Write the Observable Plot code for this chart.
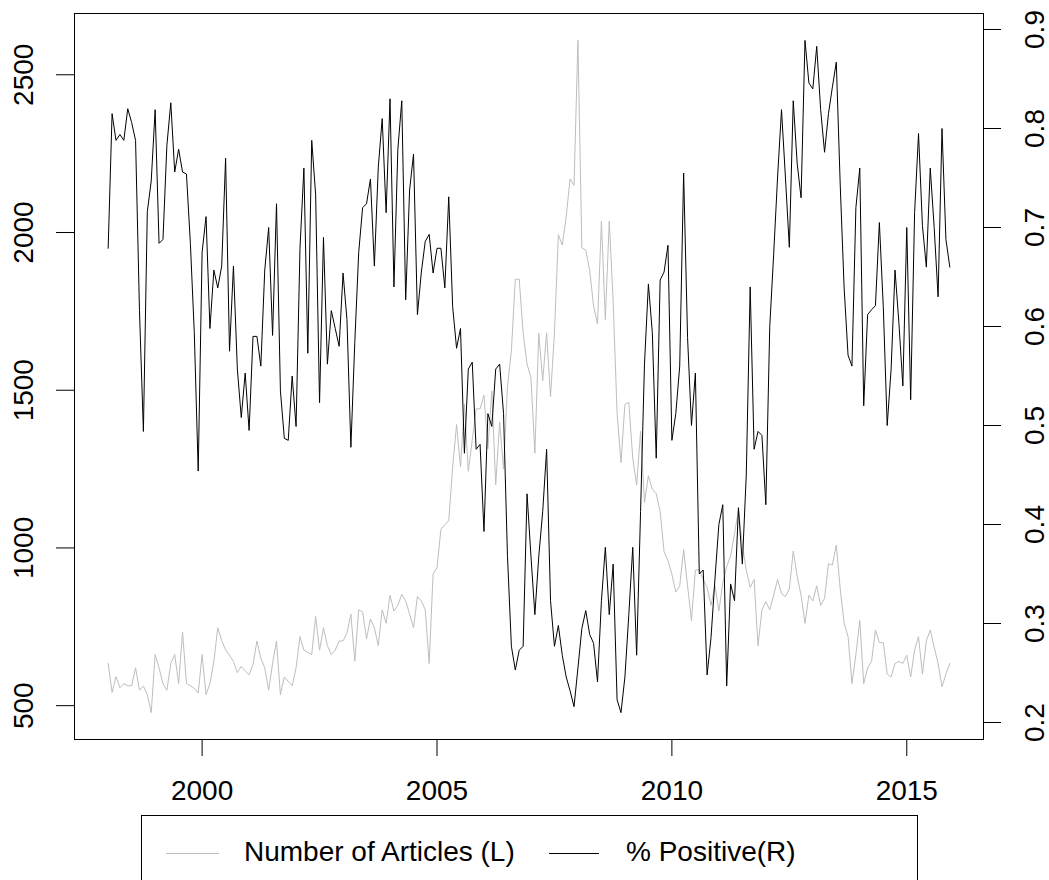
<!DOCTYPE html>
<html><head><meta charset="utf-8">
<script src="https://cdn.jsdelivr.net/npm/d3@7"></script>
<script src="https://cdn.jsdelivr.net/npm/@observablehq/plot@0.6"></script>
<style>
html,body{margin:0;padding:0;background:#fff;}
body{width:1049px;height:880px;overflow:hidden;position:relative;font-family:"Liberation Sans",Arial,sans-serif;}
#legend{position:absolute;left:141px;top:815px;width:777px;height:100px;border:1px solid #000;box-sizing:border-box;}
#legend .sw{position:absolute;top:37px;height:0;border-top:1px solid #000;}
#legend .lt{position:absolute;top:20px;font-size:28px;line-height:32px;color:#000;white-space:nowrap;}
</style></head>
<body>
<div id="chart"></div>
<div id="legend"></div>
<script>
const startYear = 1998;
const articles = [
  634,542,592,557,570,563,563,620,549,562,535,478,
  662,620,570,549,634,662,570,733,570,563,555,540,
  662,535,570,640,747,706,677,660,640,605,625,610,
  598,630,705,650,620,549,634,705,535,591,577,563,
  620,719,676,669,662,783,676,747,690,662,676,705,
  705,730,790,641,804,797,712,775,747,690,804,761,
  850,800,818,853,832,790,747,846,832,804,634,917,
  938,1059,1073,1087,1257,1391,1257,1455,1243,1342,1441,1441,
  1484,1314,1498,1200,1399,1250,1512,1625,1852,1852,1682,1583,
  1540,1300,1680,1530,1682,1480,1682,1993,1960,2050,2170,2149,
  2609,1951,1944,1880,1767,1710,2036,1724,2036,1781,1427,1271,
  1455,1462,1285,1200,1370,1144,1229,1186,1172,1115,988,960,
  917,860,880,995,880,770,930,931,900,875,818,880,
  800,889,940,975,1045,1120,1010,930,875,900,690,804,
  830,804,850,900,855,846,870,990,910,850,761,850,
  832,880,818,840,950,946,1009,870,761,719,570,662,
  770,570,620,640,740,700,700,600,591,634,640,634,
  660,591,676,719,600,705,740,685,634,560,600,634
];
const positive = [
  0.679,0.815,0.788,0.794,0.788,0.82,0.806,0.788,0.616,0.494,0.716,0.747,
  0.819,0.684,0.688,0.783,0.826,0.756,0.779,0.756,0.754,0.684,0.594,0.454,
  0.675,0.711,0.598,0.657,0.639,0.661,0.77,0.575,0.661,0.557,0.508,0.553,
  0.495,0.59,0.59,0.56,0.657,0.70,0.591,0.724,0.535,0.487,0.485,0.55,
  0.499,0.679,0.76,0.573,0.788,0.733,0.523,0.69,0.562,0.616,0.598,0.58,
  0.654,0.607,0.478,0.584,0.675,0.72,0.724,0.749,0.661,0.761,0.81,0.715,
  0.83,0.64,0.779,0.828,0.627,0.738,0.774,0.612,0.655,0.686,0.693,0.654,
  0.679,0.679,0.639,0.731,0.62,0.578,0.598,0.472,0.557,0.564,0.476,0.481,
  0.393,0.512,0.499,0.557,0.562,0.512,0.368,0.277,0.253,0.273,0.277,0.431,
  0.368,0.309,0.368,0.413,0.476,0.323,0.277,0.298,0.268,0.246,0.232,0.216,
  0.255,0.295,0.313,0.289,0.28,0.241,0.323,0.377,0.309,0.36,0.223,0.21,
  0.246,0.309,0.377,0.268,0.413,0.562,0.643,0.594,0.467,0.647,0.655,0.682,
  0.485,0.512,0.56,0.755,0.589,0.5,0.553,0.35,0.354,0.248,0.286,0.345,
  0.40,0.42,0.237,0.34,0.323,0.417,0.36,0.45,0.64,0.476,0.494,0.49,
  0.42,0.60,0.673,0.751,0.819,0.751,0.68,0.828,0.765,0.73,0.889,0.846,
  0.84,0.883,0.819,0.776,0.815,0.842,0.867,0.743,0.639,0.571,0.56,0.72,
  0.76,0.52,0.612,0.617,0.621,0.705,0.62,0.5,0.557,0.657,0.603,0.54,
  0.70,0.526,0.715,0.795,0.702,0.66,0.76,0.70,0.63,0.80,0.688,0.66
];
const xTicks = [2000, 2005, 2010, 2015];
const leftTicks = [500, 1000, 1500, 2000, 2500];
const rightTicks = [0.2, 0.3, 0.4, 0.5, 0.6, 0.7, 0.8, 0.9];
const seriesNames = ["Number of Articles (L)", "% Positive(R)"];
const seriesColors = ["#bebebe", "#000000"];

// R-style axis ranges: data extent extended by 4% each side
const ext = a => { const [lo, hi] = d3.extent(a); const r = hi - lo; return [lo - 0.04 * r, hi + 0.04 * r]; };
const dates = articles.map((_, i) => startYear + i / 12);
const xDom = ext(dates);
const L = ext(articles);
const R = ext(positive);
const toLeft = v => L[0] + (v - R[0]) * (L[1] - L[0]) / (R[1] - R[0]);
const fromLeft = y => R[0] + (y - L[0]) * (R[1] - R[0]) / (L[1] - L[0]);

const artData = articles.map((v, i) => ({date: dates[i], value: v}));
const posData = positive.map((v, i) => ({date: dates[i], value: toLeft(v)}));

const font = "Liberation Sans, Arial, sans-serif";
const chart = Plot.plot({
  width: 1049,
  height: 800,
  marginLeft: 74,
  marginRight: 66,
  marginTop: 13,
  marginBottom: 61,
  x: {domain: xDom},
  y: {domain: L},
  style: {fontFamily: font, fontSize: "28px", color: "#000", background: "#fff", overflow: "visible"},
  marks: [
    Plot.line(artData, {x: "date", y: "value", stroke: seriesColors[0], strokeWidth: 1}),
    Plot.line(posData, {x: "date", y: "value", stroke: seriesColors[1], strokeWidth: 1}),
    Plot.frame({stroke: "#000"}),
    Plot.axisX({ticks: xTicks, tickSize: 17, tickPadding: 24, tickFormat: d => String(d), label: null, fontSize: 28}),
    Plot.axisY({anchor: "left", ticks: leftTicks, tickSize: 18, tickPadding: 24, tickRotate: -90, tickFormat: d => String(d), label: null, fontSize: 28}),
    Plot.axisY({anchor: "right", ticks: rightTicks.map(toLeft), tickSize: 17, tickPadding: 43, tickRotate: -90, tickFormat: d => fromLeft(d).toFixed(1), label: null, fontSize: 28})
  ]
});
document.getElementById("chart").appendChild(chart);

// legend below the plot
const legend = document.getElementById("legend");
const swLeft = [24, 407], swWidth = [53, 50], txtLeft = [102, 484];
seriesNames.forEach((name, k) => {
  const sw = document.createElement("div");
  sw.className = "sw";
  sw.style.left = swLeft[k] + "px";
  sw.style.width = swWidth[k] + "px";
  sw.style.borderTopColor = seriesColors[k];
  legend.appendChild(sw);
  const t = document.createElement("div");
  t.className = "lt";
  t.style.left = txtLeft[k] + "px";
  t.textContent = name;
  legend.appendChild(t);
});
</script>
</body></html>
